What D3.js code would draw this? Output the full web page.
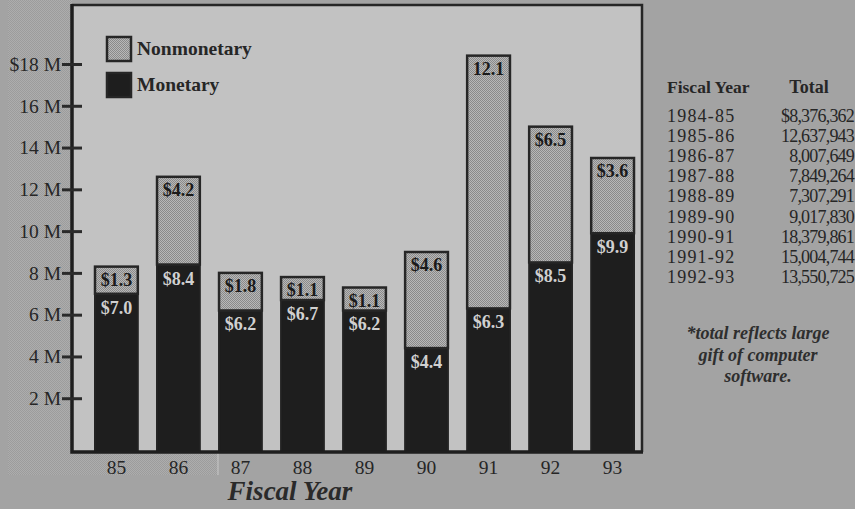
<!DOCTYPE html>
<html>
<head>
<meta charset="utf-8">
<script src="https://cdn.jsdelivr.net/npm/d3@7"></script>
<style>
  body { margin: 0; background: #a3a3a3; }
  svg { display: block; }
  text { font-family: "Liberation Serif", "Times New Roman", serif; }
</style>
</head>
<body>
<div id="chart"></div>
<script>
// chart data (millions of dollars)
var years = ["85", "86", "87", "88", "89", "90", "91", "92", "93"];
var monetary = [7.0, 8.4, 6.2, 6.7, 6.2, 4.4, 6.3, 8.5, 9.9];
var nonmonetary = [1.3, 4.2, 1.8, 1.1, 1.1, 4.6, 12.1, 6.5, 3.6];
var nonmonetaryLabels = ["$1.3", "$4.2", "$1.8", "$1.1", "$1.1", "$4.6", "12.1", "$6.5", "$3.6"];
var yTicks = [2, 4, 6, 8, 10, 12, 14, 16, 18];

// side table
var tableYears = ["1984-85", "1985-86", "1986-87", "1987-88", "1988-89", "1989-90", "1990-91", "1991-92", "1992-93"];
var tableTotals = ["$8,376,362", "12,637,943", "8,007,649", "7,849,264", "7,307,291", "9,017,830", "18,379,861", "15,004,744", "13,550,725"];
var footnote = ["*total reflects large", "gift of computer", "software."];

var svgWidth = 855;
var svgHeight = 509;

// frame of the plot
var frame = { left: 72, right: 642, top: 5, bottom: 452 };

var svg = d3.select("#chart")
    .append("svg")
    .attr("width", svgWidth)
    .attr("height", svgHeight);

// patterns: stipple for nonmonetary, dotted texture for the scan strip
var defs = svg.append("defs");
var stipple = defs.append("pattern")
    .attr("id", "stipple")
    .attr("width", 2).attr("height", 2)
    .attr("patternUnits", "userSpaceOnUse");
stipple.append("rect").attr("width", 2).attr("height", 2).attr("fill", "#b8b8b8");
stipple.append("rect").attr("width", 1).attr("height", 1).attr("fill", "#8a8a8a");
stipple.append("rect").attr("x", 1).attr("y", 1).attr("width", 1).attr("height", 1).attr("fill", "#8a8a8a");

var dots = defs.append("pattern")
    .attr("id", "dots")
    .attr("width", 2).attr("height", 2)
    .attr("patternUnits", "userSpaceOnUse");
dots.append("rect").attr("width", 2).attr("height", 2).attr("fill", "#adadad");
dots.append("rect").attr("width", 1).attr("height", 1).attr("fill", "#9c9c9c");
dots.append("rect").attr("x", 1).attr("y", 1).attr("width", 1).attr("height", 1).attr("fill", "#9c9c9c");

// background
svg.append("rect")
    .attr("width", svgWidth).attr("height", svgHeight)
    .attr("fill", "#a3a3a3");
svg.append("rect")
    .attr("x", 8).attr("y", 0)
    .attr("width", frame.left - 8).attr("height", 475)
    .attr("fill", "url(#dots)");
svg.append("rect")
    .attr("x", 8).attr("y", frame.bottom)
    .attr("width", 218 - 8).attr("height", 475 - frame.bottom)
    .attr("fill", "url(#dots)");
svg.append("line")
    .attr("x1", 218).attr("x2", 218)
    .attr("y1", frame.bottom).attr("y2", 475)
    .attr("stroke", "#c8c8c8").attr("stroke-width", 1);

// plot area
svg.append("rect")
    .attr("x", frame.left).attr("y", frame.top)
    .attr("width", frame.right - frame.left)
    .attr("height", frame.bottom - frame.top)
    .attr("fill", "#c2c2c2");

// scales
var x = d3.scaleBand()
    .domain(years)
    .range([95, 634])
    .paddingInner(0.31)
    .paddingOuter(0);

var y = d3.scaleLinear()
    .domain([0, 18])
    .range([440, 64]);

// stack the two series
var rows = years.map(function(yr, i) {
    return { year: yr, monetary: monetary[i], nonmonetary: nonmonetary[i], idx: i };
});
var stacked = d3.stack().keys(["monetary", "nonmonetary"])(rows);

// monetary bars (start at the frame bottom)
svg.append("g")
    .selectAll("rect")
    .data(stacked[0])
    .enter().append("rect")
    .attr("x", d => x(d.data.year))
    .attr("y", d => y(d[1]))
    .attr("width", x.bandwidth())
    .attr("height", d => frame.bottom - y(d[1]))
    .attr("fill", "#1e1e1e")
    .attr("stroke", "#222")
    .attr("stroke-width", 2);

// nonmonetary bars
svg.append("g")
    .selectAll("rect")
    .data(stacked[1])
    .enter().append("rect")
    .attr("x", d => x(d.data.year))
    .attr("y", d => y(d[1]))
    .attr("width", x.bandwidth())
    .attr("height", d => y(d[0]) - y(d[1]))
    .attr("fill", "url(#stipple)")
    .attr("stroke", "#262626")
    .attr("stroke-width", 2.5);

// labels on segments
svg.append("g")
    .selectAll("text")
    .data(stacked[1])
    .enter().append("text")
    .attr("x", d => x(d.data.year) + x.bandwidth() / 2)
    .attr("y", d => y(d[1]) + 19)
    .attr("text-anchor", "middle")
    .attr("font-size", "18px")
    .attr("font-weight", "bold")
    .attr("fill", "#1a1a1a")
    .text(d => nonmonetaryLabels[d.data.idx]);

svg.append("g")
    .selectAll("text")
    .data(stacked[0])
    .enter().append("text")
    .attr("x", d => x(d.data.year) + x.bandwidth() / 2)
    .attr("y", d => y(d[1]) + 20)
    .attr("text-anchor", "middle")
    .attr("font-size", "18px")
    .attr("font-weight", "bold")
    .attr("fill", "#d0d0d0")
    .text(d => "$" + d3.format(".1f")(d[1]));

// frame lines
svg.append("path")
    .attr("d", `M${frame.left},${frame.top}H${frame.right}V${frame.bottom}`)
    .attr("fill", "none")
    .attr("stroke", "#262626")
    .attr("stroke-width", 2.5);
svg.append("path")
    .attr("d", `M${frame.left},${frame.top - 1}V${frame.bottom}H${frame.right + 1}`)
    .attr("fill", "none")
    .attr("stroke", "#1e1e1e")
    .attr("stroke-width", 3.5);

// y axis with ticks crossing the frame line
var leftAxis = d3.axisLeft(y)
    .tickValues(yTicks)
    .tickSize(10)
    .tickPadding(1)
    .tickFormat(d => (d === 18 ? "$" : "") + d + " M");

var yAxis = svg.append("g")
    .attr("transform", `translate(${frame.left}, 0)`)
    .call(leftAxis);
yAxis.select(".domain").remove();
yAxis.selectAll(".tick line")
    .attr("x1", 10)
    .attr("stroke", "#2a2a2a")
    .attr("stroke-width", 3);
yAxis.selectAll(".tick text")
    .attr("font-family", "Liberation Serif, serif")
    .attr("font-size", "19.5px")
    .attr("fill", "#262626");

// x axis
var bottomAxis = d3.axisBottom(x)
    .tickSize(0)
    .tickPadding(8);
var xAxis = svg.append("g")
    .attr("transform", `translate(0, ${frame.bottom})`)
    .call(bottomAxis);
xAxis.select(".domain").remove();
xAxis.selectAll(".tick text")
    .attr("font-family", "Liberation Serif, serif")
    .attr("font-size", "19.5px")
    .attr("fill", "#262626");

svg.append("text")
    .attr("x", 290)
    .attr("y", 500)
    .attr("text-anchor", "middle")
    .attr("font-size", "27px")
    .attr("font-weight", "bold")
    .attr("font-style", "italic")
    .attr("fill", "#2a2a2a")
    .text("Fiscal Year");

// legend
var legend = svg.append("g");
var legendItems = [
    { label: "Nonmonetary", fill: "url(#stipple)", y: 37 },
    { label: "Monetary", fill: "#1e1e1e", y: 73 }
];
legend.selectAll("rect")
    .data(legendItems)
    .enter().append("rect")
    .attr("x", 107)
    .attr("y", d => d.y)
    .attr("width", 24)
    .attr("height", 24)
    .attr("fill", d => d.fill)
    .attr("stroke", "#262626")
    .attr("stroke-width", 2.5);
legend.selectAll("text")
    .data(legendItems)
    .enter().append("text")
    .attr("x", 137)
    .attr("y", d => d.y + 18)
    .attr("font-size", "19.5px")
    .attr("font-weight", "bold")
    .attr("fill", "#262626")
    .text(d => d.label);

// side table
var table = svg.append("g");
table.append("text")
    .attr("x", 667).attr("y", 93)
    .attr("font-size", "17.5px")
    .attr("font-weight", "bold")
    .attr("fill", "#262626")
    .text("Fiscal Year");
table.append("text")
    .attr("x", 809).attr("y", 93)
    .attr("text-anchor", "middle")
    .attr("font-size", "18px")
    .attr("font-weight", "bold")
    .attr("fill", "#262626")
    .text("Total");

table.selectAll(".yr")
    .data(tableYears)
    .enter().append("text")
    .attr("class", "yr")
    .attr("x", 667)
    .attr("y", (d, i) => 122 + i * 20.1)
    .attr("font-size", "18px")
    .attr("letter-spacing", "1.2px")
    .attr("fill", "#262626")
    .text(d => d);

table.selectAll(".tot")
    .data(tableTotals)
    .enter().append("text")
    .attr("class", "tot")
    .attr("x", 854)
    .attr("y", (d, i) => 122 + i * 20.1)
    .attr("text-anchor", "end")
    .attr("font-size", "18px")
    .attr("letter-spacing", "-0.8px")
    .attr("fill", "#262626")
    .text(d => d);

// footnote
svg.append("g")
    .selectAll("text")
    .data(footnote)
    .enter().append("text")
    .attr("x", 758)
    .attr("y", (d, i) => 339 + i * 21.5)
    .attr("text-anchor", "middle")
    .attr("font-size", "18px")
    .attr("font-weight", "bold")
    .attr("font-style", "italic")
    .attr("fill", "#2e2e2e")
    .text(d => d);
</script>
</body>
</html>
